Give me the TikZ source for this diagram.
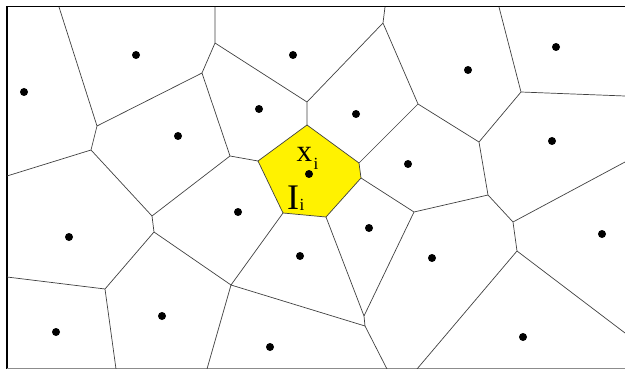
\documentclass[tikz,border=0pt]{standalone}
\usepackage{fontspec}
\setmainfont{Liberation Serif}
\begin{document}
\begin{tikzpicture}[x=1pt,y=-1pt,
  edge/.style={draw=black!75,line width=0.7pt},
  site/.style={circle,fill=black,inner sep=0pt,minimum size=8pt},
  lbl/.style={inner sep=0pt,anchor=base west}]
\useasboundingbox (0,0) rectangle (625,369);
% border
\draw[black,line width=1.6pt] (7,369) -- (7,6.5) -- (625,6.5);
\draw[black!45,line width=1pt] (7,368.5) -- (625,368.5);
% vertices
\coordinate (T1) at (59,7);   \coordinate (T2) at (215,7);
\coordinate (T3) at (385,7);  \coordinate (T4) at (499,7);
\coordinate (L1) at (7,176);  \coordinate (L2) at (7,277);
\coordinate (B1) at (116,369); \coordinate (B2) at (207,369);
\coordinate (B3) at (387,369); \coordinate (B4) at (417,369);
\coordinate (R1) at (625,96); \coordinate (R2) at (625,162);
\coordinate (R3) at (625,333);
\coordinate (a) at (97,126);  \coordinate (b) at (91,150);
\coordinate (c) at (202,73);  \coordinate (d) at (215,43);
\coordinate (e) at (230,156); \coordinate (f) at (307,102);
\coordinate (g) at (383,23);  \coordinate (h) at (418,104);
\coordinate (P1) at (307,125); \coordinate (P2) at (359,163);
\coordinate (P3) at (361,178); \coordinate (P4) at (326,217);
\coordinate (P5) at (283,213); \coordinate (P6) at (258,161);
\coordinate (k) at (521,92);  \coordinate (m) at (479,142);
\coordinate (n) at (488,195); \coordinate (o) at (414,212);
\coordinate (p) at (513,222); \coordinate (q) at (517,251);
\coordinate (r) at (152,216); \coordinate (s) at (154,232);
\coordinate (t) at (105,289); \coordinate (u) at (231,285);
\coordinate (v) at (364,316); \coordinate (w) at (365,326);
% highlighted cell
\path[edge,fill=yellow] (P1) -- (P2) -- (P3) -- (P4) -- (P5) -- (P6) -- cycle;
% edges
\path[edge] (T1) -- (a) (a) -- (c) (a) -- (b) (b) -- (L1) (b) -- (r)
  (r) -- (e) (r) -- (s) (s) -- (u) (s) -- (t) (t) -- (L2) (t) -- (B1)
  (u) -- (B2) (u) -- (P5) (u) -- (w) (w) -- (B3) (w) -- (v) (v) -- (P4)
  (v) -- (o) (c) -- (d) (d) -- (T2) (c) -- (e) (e) -- (P6) (d) -- (f)
  (f) -- (P1) (f) -- (g) (g) -- (T3) (g) -- (h) (h) -- (P2) (h) -- (m)
  (m) -- (k) (k) -- (T4) (k) -- (R1) (m) -- (n) (n) -- (o) (o) -- (P3)
  (n) -- (p) (p) -- (R2) (p) -- (q) (q) -- (B4) (q) -- (R3);
% sites
\foreach \nm/\px/\py in {s1/24/92, s2/136/55, s3/178/136, s4/293/55,
  s5/259/109, s6/356/114, s7/468/70, s8/556/47, s9/552/141, s10/408/164,
  s11/309/174, s12/238/212, s13/69/237, s14/300/256, s15/369/228,
  s16/432/258, s17/602/234, s18/56/332, s19/162/316, s20/270/347,
  s21/523/337}
  \node[site] (\nm) at (\px,\py) {};
% labels
\node[lbl] (xl) at (296.5,162) {\fontsize{31}{31}\selectfont x};
\node[lbl] (xs) at (313.5,170) {\fontsize{17}{17}\selectfont i};
\node[lbl] (Il) at (287,209) {\fontsize{36}{36}\selectfont I};
\node[lbl] (Is) at (299.5,210.5) {\fontsize{17}{17}\selectfont i};
\end{tikzpicture}
\end{document}
